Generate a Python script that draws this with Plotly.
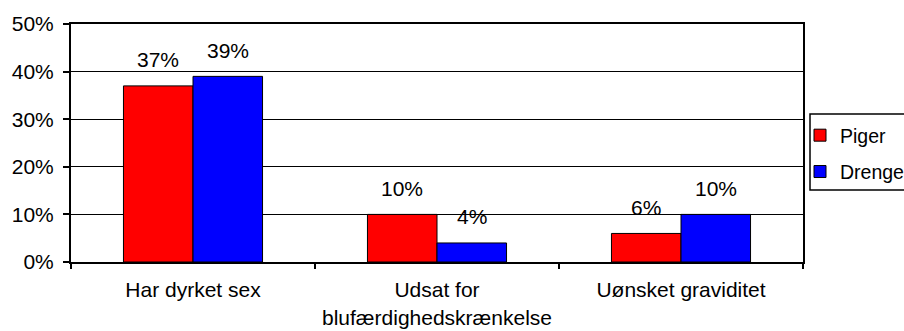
import plotly.graph_objects as go

# Survey results: share of girls and boys by outcome
categories = ["Har dyrket sex", "Udsat for<br>blufærdighedskrænkelse", "Uønsket graviditet"]
piger = [0.37, 0.10, 0.06]
drenge = [0.39, 0.04, 0.10]
series_names = ["Piger", "Drenge"]
series_colors = ["#FF0000", "#0000FF"]

# Canvas and plot-area geometry (pixels)
W, H = 904, 331
L, R, T, B = 71, 101, 24, 69
PW, PH = W - L - R, H - T - B
BARGAP = 0.43
FONT = dict(family="Arial, Liberation Sans, sans-serif", size=21, color="black")
LEGEND_FONT = dict(FONT, size=19.5)


def paper_x(px):
    return (px - L) / PW


def paper_y(py):
    return (H - B - py) / PH


fig = go.Figure()
for name, vals, col in zip(series_names, [piger, drenge], series_colors):
    fig.add_trace(go.Bar(
        x=categories, y=vals, name=name, legendgroup=name,
        marker=dict(color=col, line=dict(color="black", width=1)),
    ))

# Value labels above each bar
bar_px = PW / len(categories) * (1 - BARGAP) / 2
for k, vals in enumerate([piger, drenge]):
    shift = (k - 0.5) * bar_px
    for c, v in zip(categories, vals):
        fig.add_annotation(
            x=c, y=v, text=f"{v:.0%}", showarrow=False,
            xshift=shift, yshift=26, yanchor="middle", xanchor="center",
            font=FONT,
        )

# Legend frame
fig.add_shape(
    type="rect", xref="paper", yref="paper",
    x0=paper_x(810), x1=paper_x(930), y0=paper_y(190), y1=paper_y(114),
    line=dict(color="black", width=1.5), fillcolor="white", layer="below",
)

fig.update_layout(
    width=W, height=H,
    margin=dict(l=L, r=R, t=T, b=B, pad=0, autoexpand=False),
    paper_bgcolor="white", plot_bgcolor="white",
    font=FONT,
    barmode="group", bargap=BARGAP, bargroupgap=0,
    showlegend=True,
    legend=dict(
        x=paper_x(800), xanchor="left",
        y=paper_y(116), yanchor="top",
        bgcolor="rgba(0,0,0,0)", borderwidth=0,
        traceorder="grouped", tracegroupgap=8,
        font=LEGEND_FONT,
    ),
)
fig.update_xaxes(
    showline=True, linecolor="black", linewidth=2, mirror=True,
    ticks="outside", ticklen=5, tickwidth=1.5, tickcolor="black",
    tickson="boundaries", showgrid=False, ticklabelstandoff=8,
    tickangle=0, automargin=False,
)
fig.update_yaxes(
    range=[0, 0.5], dtick=0.1, tickformat=".0%",
    showline=True, linecolor="black", linewidth=2, mirror=True,
    ticks="outside", ticklen=6, tickwidth=2, tickcolor="black",
    showgrid=True, gridcolor="black", gridwidth=1,
    zeroline=False, ticklabelstandoff=5, automargin=False,
)

fig.write_html("out.html")
